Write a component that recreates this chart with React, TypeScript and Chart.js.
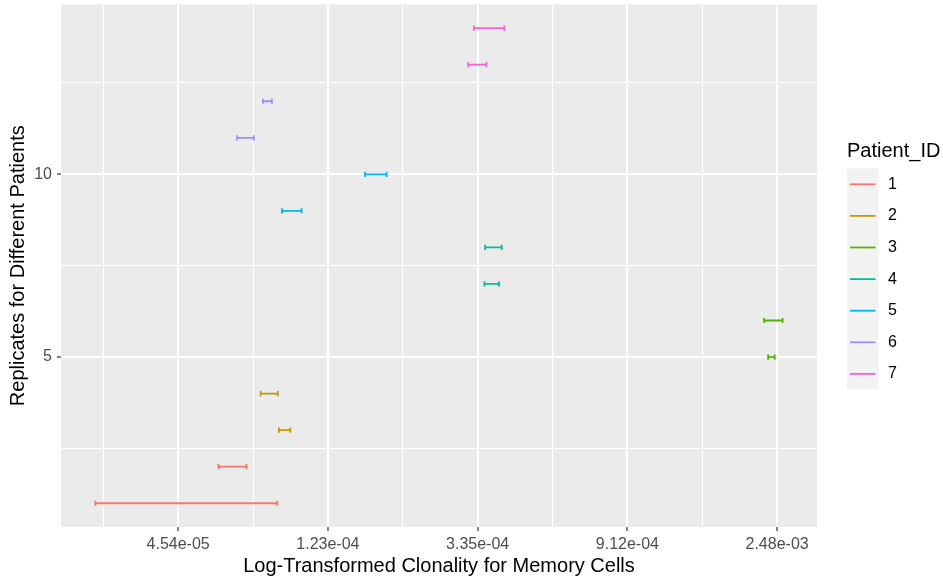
import React, { useEffect, useRef } from "react";
import { Chart, registerables } from "chart.js";

Chart.register(...registerables);

// ---- data (natural-log of clonality) ----
const replicates = [1, 2, 3, 4, 5, 6, 7, 8, 9, 10, 11, 12, 13, 14];
const patientOfReplicate = [1, 1, 2, 2, 3, 3, 4, 4, 5, 5, 6, 6, 7, 7];
const lowerLog = [-10.553, -9.731, -9.327, -9.449, -6.06, -6.087, -7.955, -7.95, -9.307, -8.752, -9.607, -9.434, -8.063, -8.025];
const upperLog = [-9.338, -9.544, -9.251, -9.334, -6.016, -5.963, -7.857, -7.839, -9.176, -8.608, -9.494, -9.374, -7.941, -7.821];

const patientIds = ["1", "2", "3", "4", "5", "6", "7"];
const patientColors = ["#F8766D", "#C49A00", "#53B400", "#00C094", "#00B6EB", "#A58AFF", "#FB61D7"];

const xMajorTicks = [-10, -9, -8, -7, -6];
const xTickLabels = ["4.54e-05", "1.23e-04", "3.35e-04", "9.12e-04", "2.48e-03"];
const xMinorTicks = [-10.5, -9.5, -8.5, -7.5, -6.5];
const yMajorTicks = [5, 10];
const yTickLabels = ["5", "10"];
const yMinorTicks = [2.5, 7.5, 12.5];

const xTitle = "Log-Transformed Clonality for Memory Cells";
const yTitle = "Replicates for Different Patients";
const legendTitle = "Patient_ID";

const FONT = "'Liberation Sans', Arial, Helvetica, sans-serif";

export default function App() {
  const ref = useRef<HTMLCanvasElement | null>(null);

  useEffect(() => {
    const canvas = ref.current;
    if (!canvas) return;

    const allX = [...lowerLog, ...upperLog];
    const xLo = Math.min(...allX), xHi = Math.max(...allX);
    const xPad = (xHi - xLo) * 0.05;
    const yLo = Math.min(...replicates), yHi = Math.max(...replicates);
    const yPad = (yHi - yLo) * 0.05;

    const datasets = replicates.map((r, i) => {
      const col = patientColors[patientOfReplicate[i] - 1];
      return {
        label: "rep" + r,
        data: [
          { x: lowerLog[i], y: r },
          { x: upperLog[i], y: r },
        ],
        showLine: true,
        borderColor: col,
        backgroundColor: col,
        borderWidth: 1.8,
        pointStyle: "line" as const,
        rotation: 90,
        pointRadius: 2.6,
        pointBorderWidth: 1.8,
        pointBorderColor: col,
        pointHoverRadius: 2.6,
      };
    });

    const isMajor = (list: number[], v: number) => list.some((t) => Math.abs(t - v) < 1e-9);

    const bgPlugin = {
      id: "ggbg",
      beforeDraw(chart: any) {
        const { ctx, chartArea } = chart;
        ctx.save();
        ctx.fillStyle = "#FFFFFF";
        ctx.fillRect(0, 0, chart.width, chart.height);
        ctx.fillStyle = "#EBEBEB";
        ctx.fillRect(chartArea.left, chartArea.top, chartArea.right - chartArea.left, chartArea.bottom - chartArea.top);
        ctx.restore();
      },
      afterDraw(chart: any) {
        const { ctx, chartArea } = chart;
        ctx.save();
        ctx.fillStyle = "#000000";
        // x title
        ctx.font = `20px ${FONT}`;
        ctx.textAlign = "center";
        ctx.textBaseline = "middle";
        ctx.fillText(xTitle, (chartArea.left + chartArea.right) / 2, 566);
        // y title
        ctx.save();
        ctx.translate(18, (chartArea.top + chartArea.bottom) / 2);
        ctx.rotate(-Math.PI / 2);
        ctx.fillText(yTitle, 0, 0);
        ctx.restore();
        // legend
        ctx.textAlign = "left";
        ctx.fillText(legendTitle, 847, 151);
        const keyLeft = 847, keyW = 31.5, keyTop = 168.5, keyH = 31.6;
        ctx.fillStyle = "#F2F2F2";
        ctx.fillRect(keyLeft, keyTop, keyW, keyH * patientIds.length);
        ctx.font = `16px ${FONT}`;
        patientIds.forEach((id, i) => {
          const cy = keyTop + keyH * (i + 0.5);
          ctx.strokeStyle = patientColors[i];
          ctx.lineWidth = 1.8;
          ctx.beginPath();
          ctx.moveTo(keyLeft + 3, cy);
          ctx.lineTo(keyLeft + keyW - 3, cy);
          ctx.stroke();
          ctx.fillStyle = "#000000";
          ctx.fillText(id, 888, cy);
        });
        ctx.restore();
      },
    };

    const chart = new Chart(canvas, {
      type: "scatter",
      data: { datasets: datasets as any },
      plugins: [bgPlugin],
      options: {
        animation: false,
        responsive: false,
        maintainAspectRatio: false,
        events: [],
        layout: { padding: { left: 0, top: 3, right: 126, bottom: 0 } },
        plugins: { legend: { display: false }, tooltip: { enabled: false } },
        scales: {
          x: {
            type: "linear",
            min: xLo - xPad,
            max: xHi + xPad,
            afterBuildTicks(scale: any) {
              scale.ticks = [...xMajorTicks, ...xMinorTicks].sort((a, b) => a - b).map((v) => ({ value: v }));
            },
            afterFit(scale: any) {
              scale.height = 55;
              scale.paddingLeft = 0;
              scale.paddingRight = 0;
            },
            border: { display: false },
            grid: {
              color: "#FFFFFF",
              lineWidth: (c: any) => (isMajor(xMajorTicks, c.tick?.value) ? 2 : 1),
              tickColor: (c: any) => (isMajor(xMajorTicks, c.tick?.value) ? "#333333" : "rgba(0,0,0,0)"),
              tickLength: 4,
              tickWidth: 1.2,
              drawTicks: true,
            },
            ticks: {
              autoSkip: false,
              maxRotation: 0,
              padding: 4,
              color: "#4D4D4D",
              font: { family: FONT, size: 16 },
              callback: (v: any) => {
                const idx = xMajorTicks.findIndex((t) => Math.abs(t - v) < 1e-9);
                return idx >= 0 ? xTickLabels[idx] : "";
              },
            },
          },
          y: {
            type: "linear",
            min: yLo - yPad,
            max: yHi + yPad,
            afterBuildTicks(scale: any) {
              scale.ticks = [...yMajorTicks, ...yMinorTicks].sort((a, b) => a - b).map((v) => ({ value: v }));
            },
            afterFit(scale: any) {
              scale.width = 61;
              scale.paddingTop = 0;
              scale.paddingBottom = 0;
            },
            border: { display: false },
            grid: {
              color: "#FFFFFF",
              lineWidth: (c: any) => (isMajor(yMajorTicks, c.tick?.value) ? 2 : 1),
              tickColor: (c: any) => (isMajor(yMajorTicks, c.tick?.value) ? "#333333" : "rgba(0,0,0,0)"),
              tickLength: 4,
              tickWidth: 1.2,
              drawTicks: true,
            },
            ticks: {
              autoSkip: false,
              padding: 5,
              color: "#4D4D4D",
              font: { family: FONT, size: 16 },
              callback: (v: any) => {
                const idx = yMajorTicks.findIndex((t) => Math.abs(t - v) < 1e-9);
                return idx >= 0 ? yTickLabels[idx] : "";
              },
            },
          },
        },
      },
    });

    return () => chart.destroy();
  }, []);

  return (
    <div style={{ position: "fixed", left: 0, top: 0, width: 943, height: 582, background: "#FFFFFF" }}>
      <canvas ref={ref} width={943} height={582} style={{ width: 943, height: 582, display: "block" }} />
    </div>
  );
}
